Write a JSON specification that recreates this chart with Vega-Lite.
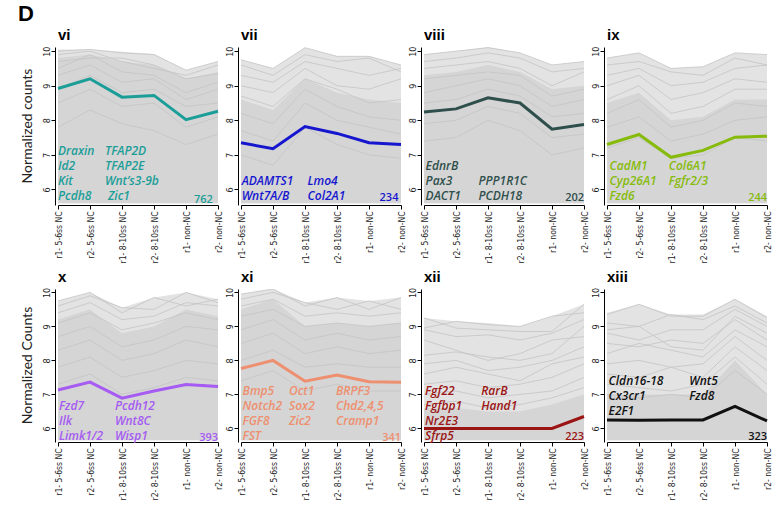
{
"$schema": "https://vega.github.io/schema/vega-lite/v6.json",
"background": "white",
"padding": {"left": 17, "top": 3, "right": 2, "bottom": 2},
"title": {"text": "D", "anchor": "start", "fontSize": 22, "fontWeight": "bold", "font": "Liberation Sans", "color": "#000", "dx": -3, "offset": 2},
"datasets": {"d": [
{"r":1,"p":"vi","k":"e","x":0,"hi":10.05,"mid":9.8,"lo":5.6},
{"r":1,"p":"vi","k":"e","x":1,"hi":10.05,"mid":9.9,"lo":5.6},
{"r":1,"p":"vi","k":"e","x":2,"hi":9.98,"mid":9.7,"lo":5.6},
{"r":1,"p":"vi","k":"e","x":3,"hi":9.92,"mid":9.6,"lo":5.6},
{"r":1,"p":"vi","k":"e","x":4,"hi":9.45,"mid":9.2,"lo":5.6},
{"r":1,"p":"vi","k":"e","x":5,"hi":9.7,"mid":9.4,"lo":5.6},
{"r":1,"p":"vii","k":"e","x":0,"hi":9.75,"mid":8.6,"lo":5.6},
{"r":1,"p":"vii","k":"e","x":1,"hi":9.5,"mid":8.3,"lo":5.6},
{"r":1,"p":"vii","k":"e","x":2,"hi":10.1,"mid":9.2,"lo":5.6},
{"r":1,"p":"vii","k":"e","x":3,"hi":9.85,"mid":8.8,"lo":5.6},
{"r":1,"p":"vii","k":"e","x":4,"hi":9.85,"mid":8.6,"lo":5.6},
{"r":1,"p":"vii","k":"e","x":5,"hi":9.6,"mid":8.5,"lo":5.6},
{"r":1,"p":"viii","k":"e","x":0,"hi":9.9,"mid":9.3,"lo":5.6},
{"r":1,"p":"viii","k":"e","x":1,"hi":10.0,"mid":9.4,"lo":5.6},
{"r":1,"p":"viii","k":"e","x":2,"hi":10.12,"mid":9.6,"lo":5.6},
{"r":1,"p":"viii","k":"e","x":3,"hi":9.95,"mid":9.4,"lo":5.6},
{"r":1,"p":"viii","k":"e","x":4,"hi":9.6,"mid":8.9,"lo":5.6},
{"r":1,"p":"viii","k":"e","x":5,"hi":9.7,"mid":9.0,"lo":5.6},
{"r":1,"p":"ix","k":"e","x":0,"hi":9.8,"mid":8.5,"lo":5.6},
{"r":1,"p":"ix","k":"e","x":1,"hi":9.95,"mid":8.8,"lo":5.6},
{"r":1,"p":"ix","k":"e","x":2,"hi":9.5,"mid":8.0,"lo":5.6},
{"r":1,"p":"ix","k":"e","x":3,"hi":9.55,"mid":8.1,"lo":5.6},
{"r":1,"p":"ix","k":"e","x":4,"hi":9.95,"mid":8.6,"lo":5.6},
{"r":1,"p":"ix","k":"e","x":5,"hi":9.9,"mid":8.6,"lo":5.6},
{"r":2,"p":"x","k":"e","x":0,"hi":9.75,"mid":9.2,"lo":5.65},
{"r":2,"p":"x","k":"e","x":1,"hi":10.0,"mid":9.5,"lo":5.65},
{"r":2,"p":"x","k":"e","x":2,"hi":9.55,"mid":8.8,"lo":5.65},
{"r":2,"p":"x","k":"e","x":3,"hi":9.85,"mid":9.0,"lo":5.65},
{"r":2,"p":"x","k":"e","x":4,"hi":10.0,"mid":9.5,"lo":5.65},
{"r":2,"p":"x","k":"e","x":5,"hi":9.8,"mid":9.3,"lo":5.65},
{"r":2,"p":"xi","k":"e","x":0,"hi":9.95,"mid":9.5,"lo":5.65},
{"r":2,"p":"xi","k":"e","x":1,"hi":10.1,"mid":9.8,"lo":5.65},
{"r":2,"p":"xi","k":"e","x":2,"hi":9.7,"mid":9.0,"lo":5.65},
{"r":2,"p":"xi","k":"e","x":3,"hi":9.85,"mid":9.1,"lo":5.65},
{"r":2,"p":"xi","k":"e","x":4,"hi":9.75,"mid":9.0,"lo":5.65},
{"r":2,"p":"xi","k":"e","x":5,"hi":9.85,"mid":9.1,"lo":5.65},
{"r":2,"p":"xii","k":"e","x":0,"hi":9.25,"mid":6.6,"lo":5.65},
{"r":2,"p":"xii","k":"e","x":1,"hi":9.15,"mid":6.6,"lo":5.65},
{"r":2,"p":"xii","k":"e","x":2,"hi":9.1,"mid":6.5,"lo":5.65},
{"r":2,"p":"xii","k":"e","x":3,"hi":9.0,"mid":6.5,"lo":5.65},
{"r":2,"p":"xii","k":"e","x":4,"hi":9.3,"mid":6.7,"lo":5.65},
{"r":2,"p":"xii","k":"e","x":5,"hi":9.65,"mid":7.0,"lo":5.65},
{"r":2,"p":"xiii","k":"e","x":0,"hi":9.4,"mid":7.0,"lo":5.65},
{"r":2,"p":"xiii","k":"e","x":1,"hi":9.65,"mid":7.0,"lo":5.65},
{"r":2,"p":"xiii","k":"e","x":2,"hi":9.35,"mid":7.0,"lo":5.65},
{"r":2,"p":"xiii","k":"e","x":3,"hi":9.35,"mid":7.0,"lo":5.65},
{"r":2,"p":"xiii","k":"e","x":4,"hi":9.8,"mid":8.0,"lo":5.65},
{"r":2,"p":"xiii","k":"e","x":5,"hi":9.3,"mid":7.0,"lo":5.65},

{"r":1,"p":"vi","k":"g","id":1,"0":10.0,"1":10.05,"2":9.95,"3":9.9,"4":9.45,"5":9.7},
{"r":1,"p":"vi","k":"g","id":2,"0":9.9,"1":10.0,"2":9.7,"3":9.5,"4":9.3,"5":9.6},
{"r":1,"p":"vi","k":"g","id":3,"0":9.7,"1":9.8,"2":9.8,"3":9.6,"4":9.2,"5":9.35},
{"r":1,"p":"vi","k":"g","id":4,"0":9.5,"1":9.9,"2":9.4,"3":9.3,"4":8.8,"5":9.1},
{"r":1,"p":"vi","k":"g","id":5,"0":9.3,"1":9.6,"2":9.1,"3":9.2,"4":8.6,"5":8.9},
{"r":1,"p":"vi","k":"g","id":6,"0":8.9,"1":9.3,"2":8.8,"3":8.9,"4":8.4,"5":8.5},
{"r":1,"p":"vi","k":"g","id":7,"0":8.5,"1":8.9,"2":8.4,"3":8.5,"4":7.8,"5":8.1},
{"r":1,"p":"vi","k":"g","id":8,"0":7.8,"1":8.3,"2":7.9,"3":7.7,"4":7.3,"5":7.6},
{"r":1,"p":"vii","k":"g","id":1,"0":9.75,"1":9.5,"2":10.1,"3":9.85,"4":9.85,"5":9.6},
{"r":1,"p":"vii","k":"g","id":2,"0":9.6,"1":9.3,"2":9.9,"3":9.7,"4":9.8,"5":9.4},
{"r":1,"p":"vii","k":"g","id":3,"0":9.3,"1":9.1,"2":9.7,"3":9.5,"4":9.3,"5":9.5},
{"r":1,"p":"vii","k":"g","id":4,"0":9.0,"1":8.8,"2":9.5,"3":9.0,"4":8.9,"5":9.2},
{"r":1,"p":"vii","k":"g","id":5,"0":8.7,"1":8.4,"2":9.2,"3":8.9,"4":8.5,"5":8.6},
{"r":1,"p":"vii","k":"g","id":6,"0":8.2,"1":7.9,"2":8.9,"3":8.4,"4":8.1,"5":8.0},
{"r":1,"p":"vii","k":"g","id":7,"0":7.7,"1":7.4,"2":8.5,"3":8.0,"4":7.8,"5":7.6},
{"r":1,"p":"vii","k":"g","id":8,"0":7.0,"1":6.7,"2":7.8,"3":7.3,"4":7.0,"5":6.9},
{"r":1,"p":"viii","k":"g","id":1,"0":9.9,"1":10.0,"2":10.1,"3":9.95,"4":9.6,"5":9.7},
{"r":1,"p":"viii","k":"g","id":2,"0":9.7,"1":9.8,"2":9.95,"3":9.8,"4":9.4,"5":9.5},
{"r":1,"p":"viii","k":"g","id":3,"0":9.5,"1":9.6,"2":9.7,"3":9.5,"4":9.0,"5":9.4},
{"r":1,"p":"viii","k":"g","id":4,"0":9.2,"1":9.3,"2":9.4,"3":9.3,"4":8.7,"5":8.9},
{"r":1,"p":"viii","k":"g","id":5,"0":8.8,"1":9.0,"2":9.2,"3":9.0,"4":8.4,"5":8.6},
{"r":1,"p":"viii","k":"g","id":6,"0":8.5,"1":8.6,"2":8.9,"3":8.7,"4":8.1,"5":8.2},
{"r":1,"p":"viii","k":"g","id":7,"0":7.9,"1":8.0,"2":8.4,"3":8.2,"4":7.5,"5":7.6},
{"r":1,"p":"viii","k":"g","id":8,"0":7.4,"1":7.5,"2":8.0,"3":7.7,"4":7.0,"5":7.2},
{"r":1,"p":"ix","k":"g","id":1,"0":9.8,"1":9.95,"2":9.5,"3":9.55,"4":9.95,"5":9.9},
{"r":1,"p":"ix","k":"g","id":2,"0":9.6,"1":9.7,"2":9.4,"3":9.3,"4":9.8,"5":9.6},
{"r":1,"p":"ix","k":"g","id":3,"0":9.3,"1":9.5,"2":9.0,"3":9.1,"4":9.5,"5":9.6},
{"r":1,"p":"ix","k":"g","id":4,"0":9.0,"1":9.3,"2":8.6,"3":8.8,"4":9.2,"5":9.1},
{"r":1,"p":"ix","k":"g","id":5,"0":8.6,"1":9.0,"2":8.2,"3":8.4,"4":8.9,"5":8.9},
{"r":1,"p":"ix","k":"g","id":6,"0":8.2,"1":8.6,"2":7.8,"3":8.0,"4":8.5,"5":8.4},
{"r":1,"p":"ix","k":"g","id":7,"0":7.8,"1":8.1,"2":7.4,"3":7.6,"4":8.0,"5":8.1},
{"r":1,"p":"ix","k":"g","id":8,"0":7.2,"1":7.5,"2":6.9,"3":7.0,"4":7.5,"5":7.4},
{"r":2,"p":"x","k":"g","id":1,"0":9.75,"1":10.0,"2":9.4,"3":9.85,"4":9.6,"5":9.8},
{"r":2,"p":"x","k":"g","id":2,"0":9.6,"1":9.9,"2":9.55,"3":9.5,"4":10.0,"5":9.7},
{"r":2,"p":"x","k":"g","id":3,"0":9.4,"1":9.7,"2":9.2,"3":9.3,"4":9.7,"5":9.6},
{"r":2,"p":"x","k":"g","id":4,"0":9.1,"1":9.4,"2":8.9,"3":9.1,"4":9.4,"5":9.2},
{"r":2,"p":"x","k":"g","id":5,"0":8.7,"1":9.0,"2":8.4,"3":8.6,"4":9.0,"5":8.9},
{"r":2,"p":"x","k":"g","id":6,"0":8.3,"1":8.6,"2":8.0,"3":8.2,"4":8.6,"5":8.4},
{"r":2,"p":"x","k":"g","id":7,"0":7.8,"1":8.1,"2":7.5,"3":7.7,"4":8.0,"5":7.9},
{"r":2,"p":"x","k":"g","id":8,"0":7.3,"1":7.6,"2":7.0,"3":7.2,"4":7.5,"5":7.4},
{"r":2,"p":"xi","k":"g","id":1,"0":9.95,"1":10.1,"2":9.6,"3":9.85,"4":9.5,"5":9.85},
{"r":2,"p":"xi","k":"g","id":2,"0":9.8,"1":10.0,"2":9.7,"3":9.5,"4":9.75,"5":9.5},
{"r":2,"p":"xi","k":"g","id":3,"0":9.6,"1":9.8,"2":9.3,"3":9.4,"4":9.3,"5":9.4},
{"r":2,"p":"xi","k":"g","id":4,"0":9.3,"1":9.5,"2":9.0,"3":9.1,"4":9.0,"5":9.1},
{"r":2,"p":"xi","k":"g","id":5,"0":8.9,"1":9.2,"2":8.6,"3":8.8,"4":8.6,"5":8.7},
{"r":2,"p":"xi","k":"g","id":6,"0":8.5,"1":8.8,"2":8.2,"3":8.4,"4":8.2,"5":8.3},
{"r":2,"p":"xi","k":"g","id":7,"0":8.0,"1":8.3,"2":7.8,"3":7.9,"4":7.8,"5":7.8},
{"r":2,"p":"xi","k":"g","id":8,"0":7.4,"1":7.7,"2":7.1,"3":7.3,"4":7.1,"5":7.1},
{"r":2,"p":"xii","k":"g","id":1,"0":9.25,"1":8.95,"2":8.9,"3":8.85,"4":8.85,"5":9.65},
{"r":2,"p":"xii","k":"g","id":2,"0":8.95,"1":9.15,"2":9.05,"3":9.0,"4":9.3,"5":9.4},
{"r":2,"p":"xii","k":"g","id":3,"0":8.9,"1":8.7,"2":8.75,"3":8.6,"4":8.8,"5":9.2},
{"r":2,"p":"xii","k":"g","id":4,"0":8.15,"1":8.25,"2":8.1,"3":8.0,"4":8.2,"5":9.0},
{"r":2,"p":"xii","k":"g","id":5,"0":7.9,"1":8.0,"2":7.7,"3":7.8,"4":8.0,"5":8.4},
{"r":2,"p":"xii","k":"g","id":6,"0":7.6,"1":7.8,"2":7.6,"3":7.4,"4":7.9,"5":8.1},
{"r":2,"p":"xii","k":"g","id":7,"0":7.3,"1":7.4,"2":7.2,"3":7.3,"4":7.5,"5":7.9},
{"r":2,"p":"xii","k":"g","id":8,"0":7.0,"1":7.1,"2":6.9,"3":7.0,"4":7.1,"5":7.5},
{"r":2,"p":"xii","k":"g","id":9,"0":6.7,"1":6.8,"2":6.6,"3":6.7,"4":6.9,"5":7.2},
{"r":2,"p":"xii","k":"g","id":10,"0":8.6,"1":8.3,"2":8.0,"3":8.2,"4":8.6,"5":8.7},
{"r":2,"p":"xiii","k":"g","id":1,"0":9.35,"1":9.65,"2":9.3,"3":9.3,"4":9.8,"5":9.25},
{"r":2,"p":"xiii","k":"g","id":2,"0":9.1,"1":9.0,"2":9.35,"3":9.2,"4":9.6,"5":9.1},
{"r":2,"p":"xiii","k":"g","id":3,"0":8.8,"1":8.6,"2":8.9,"3":8.9,"4":9.5,"5":9.0},
{"r":2,"p":"xiii","k":"g","id":4,"0":8.5,"1":8.4,"2":8.6,"3":8.5,"4":9.2,"5":8.6},
{"r":2,"p":"xiii","k":"g","id":5,"0":8.2,"1":8.5,"2":8.3,"3":8.1,"4":8.9,"5":8.4},
{"r":2,"p":"xiii","k":"g","id":6,"0":7.9,"1":8.0,"2":7.8,"3":7.9,"4":8.7,"5":8.0},
{"r":2,"p":"xiii","k":"g","id":7,"0":7.6,"1":7.5,"2":7.8,"3":7.5,"4":8.4,"5":7.7},
{"r":2,"p":"xiii","k":"g","id":8,"0":7.3,"1":7.2,"2":7.1,"3":7.3,"4":8.1,"5":7.3},
{"r":2,"p":"xiii","k":"g","id":9,"0":7.0,"1":6.9,"2":7.0,"3":6.9,"4":7.7,"5":7.0},
{"r":2,"p":"xiii","k":"g","id":10,"0":8.9,"1":9.0,"2":8.4,"3":8.3,"4":9.3,"5":8.8},

{"r":1,"p":"vi","k":"m","0":8.92,"1":9.2,"2":8.67,"3":8.72,"4":8.02,"5":8.26},
{"r":1,"p":"vii","k":"m","0":7.35,"1":7.18,"2":7.82,"3":7.62,"4":7.35,"5":7.3},
{"r":1,"p":"viii","k":"m","0":8.24,"1":8.33,"2":8.65,"3":8.5,"4":7.74,"5":7.88},
{"r":1,"p":"ix","k":"m","0":7.3,"1":7.59,"2":6.93,"3":7.13,"4":7.51,"5":7.54},
{"r":2,"p":"x","k":"m","0":7.13,"1":7.36,"2":6.89,"3":7.1,"4":7.29,"5":7.23},
{"r":2,"p":"xi","k":"m","0":7.76,"1":8.0,"2":7.39,"3":7.57,"4":7.37,"5":7.36},
{"r":2,"p":"xii","k":"m","0":6.0,"1":6.0,"2":6.0,"3":6.0,"4":6.0,"5":6.35},
{"r":2,"p":"xiii","k":"m","0":6.25,"1":6.24,"2":6.25,"3":6.25,"4":6.65,"5":6.22},

{"r":1,"p":"vi","k":"t","tx":0.0,"ty":7.11,"t":"Draxin"},
{"r":1,"p":"vi","k":"t","tx":0.0,"ty":6.67,"t":"Id2"},
{"r":1,"p":"vi","k":"t","tx":0.0,"ty":6.24,"t":"Kit"},
{"r":1,"p":"vi","k":"t","tx":0.0,"ty":5.81,"t":"Pcdh8"},
{"r":1,"p":"vi","k":"t","tx":1.47,"ty":7.11,"t":"TFAP2D"},
{"r":1,"p":"vi","k":"t","tx":1.47,"ty":6.67,"t":"TFAP2E"},
{"r":1,"p":"vi","k":"t","tx":1.47,"ty":6.24,"t":"Wnt’s3-9b"},
{"r":1,"p":"vi","k":"t","tx":1.56,"ty":5.81,"t":"Zic1"},
{"r":1,"p":"vi","k":"n","tx":4.84,"ty":5.7,"t":"762"},
{"r":1,"p":"vii","k":"t","tx":0.02,"ty":6.24,"t":"ADAMTS1"},
{"r":1,"p":"vii","k":"t","tx":0.02,"ty":5.81,"t":"Wnt7A/B"},
{"r":1,"p":"vii","k":"t","tx":2.08,"ty":6.24,"t":"Lmo4"},
{"r":1,"p":"vii","k":"t","tx":2.08,"ty":5.81,"t":"Col2A1"},
{"r":1,"p":"vii","k":"n","tx":4.92,"ty":5.74,"t":"234"},
{"r":1,"p":"viii","k":"t","tx":0.05,"ty":6.67,"t":"EdnrB"},
{"r":1,"p":"viii","k":"t","tx":0.05,"ty":6.24,"t":"Pax3"},
{"r":1,"p":"viii","k":"t","tx":0.05,"ty":5.81,"t":"DACT1"},
{"r":1,"p":"viii","k":"t","tx":1.7,"ty":6.24,"t":"PPP1R1C"},
{"r":1,"p":"viii","k":"t","tx":1.7,"ty":5.81,"t":"PCDH18"},
{"r":1,"p":"viii","k":"n","tx":5.0,"ty":5.75,"t":"202"},
{"r":1,"p":"ix","k":"t","tx":0.08,"ty":6.67,"t":"CadM1"},
{"r":1,"p":"ix","k":"t","tx":0.08,"ty":6.24,"t":"Cyp26A1"},
{"r":1,"p":"ix","k":"t","tx":0.08,"ty":5.81,"t":"Fzd6"},
{"r":1,"p":"ix","k":"t","tx":1.93,"ty":6.67,"t":"Col6A1"},
{"r":1,"p":"ix","k":"t","tx":1.93,"ty":6.24,"t":"Fgfr2/3"},
{"r":1,"p":"ix","k":"n","tx":5.0,"ty":5.74,"t":"244"},
{"r":2,"p":"x","k":"t","tx":0.03,"ty":6.67,"t":"Fzd7"},
{"r":2,"p":"x","k":"t","tx":0.03,"ty":6.23,"t":"Ilk"},
{"r":2,"p":"x","k":"t","tx":0.03,"ty":5.79,"t":"Limk1/2"},
{"r":2,"p":"x","k":"t","tx":1.78,"ty":6.67,"t":"Pcdh12"},
{"r":2,"p":"x","k":"t","tx":1.78,"ty":6.23,"t":"Wnt8C"},
{"r":2,"p":"x","k":"t","tx":1.78,"ty":5.79,"t":"Wisp1"},
{"r":2,"p":"x","k":"n","tx":5.0,"ty":5.72,"t":"393"},
{"r":2,"p":"xi","k":"t","tx":0.05,"ty":7.11,"t":"Bmp5"},
{"r":2,"p":"xi","k":"t","tx":0.05,"ty":6.67,"t":"Notch2"},
{"r":2,"p":"xi","k":"t","tx":0.05,"ty":6.23,"t":"FGF8"},
{"r":2,"p":"xi","k":"t","tx":0.05,"ty":5.79,"t":"FST"},
{"r":2,"p":"xi","k":"t","tx":1.5,"ty":7.11,"t":"Oct1"},
{"r":2,"p":"xi","k":"t","tx":1.5,"ty":6.67,"t":"Sox2"},
{"r":2,"p":"xi","k":"t","tx":1.5,"ty":6.23,"t":"Zic2"},
{"r":2,"p":"xi","k":"t","tx":2.97,"ty":7.11,"t":"BRPF3"},
{"r":2,"p":"xi","k":"t","tx":2.97,"ty":6.67,"t":"Chd2,4,5"},
{"r":2,"p":"xi","k":"t","tx":2.97,"ty":6.23,"t":"Cramp1"},
{"r":2,"p":"xi","k":"n","tx":5.0,"ty":5.72,"t":"341"},
{"r":2,"p":"xii","k":"t","tx":0.03,"ty":7.11,"t":"Fgf22"},
{"r":2,"p":"xii","k":"t","tx":0.03,"ty":6.67,"t":"Fgfbp1"},
{"r":2,"p":"xii","k":"t","tx":0.03,"ty":6.23,"t":"Nr2E3"},
{"r":2,"p":"xii","k":"t","tx":0.03,"ty":5.79,"t":"Sfrp5"},
{"r":2,"p":"xii","k":"t","tx":1.79,"ty":7.11,"t":"RarB"},
{"r":2,"p":"xii","k":"t","tx":1.79,"ty":6.67,"t":"Hand1"},
{"r":2,"p":"xii","k":"n","tx":5.0,"ty":5.75,"t":"223"},
{"r":2,"p":"xiii","k":"t","tx":0.05,"ty":7.38,"t":"Cldn16-18"},
{"r":2,"p":"xiii","k":"t","tx":0.05,"ty":6.94,"t":"Cx3cr1"},
{"r":2,"p":"xiii","k":"t","tx":0.05,"ty":6.5,"t":"E2F1"},
{"r":2,"p":"xiii","k":"t","tx":2.57,"ty":7.38,"t":"Wnt5"},
{"r":2,"p":"xiii","k":"t","tx":2.57,"ty":6.94,"t":"Fzd8"},
{"r":2,"p":"xiii","k":"n","tx":5.0,"ty":5.76,"t":"323"}
]},
"vconcat": [
{
 "data": {"name": "d"},
 "transform": [{"filter": "datum.r == 1"}],
 "facet": {
  "row": {"field": "r", "type": "nominal", "header": {"title": null, "labelExpr": "'Normalized counts'", "labelAngle": -90, "labelOrient": "left", "labelFont": "Lato", "labelFontSize": 14, "labelColor": "#222", "labelPadding": 0}},
  "column": {"field": "p", "type": "nominal", "sort": ["vi","vii","viii","ix"], "header": {"title": null, "labelAnchor": "start", "labelAlign": "left", "labelFont": "Liberation Sans", "labelFontWeight": "bold", "labelFontSize": 15, "labelColor": "#000", "labelPadding": 2}}
 },
 "spacing": {"column": 1, "row": 0},
 "resolve": {"axis": {"x": "independent", "y": "independent"}},
 "spec": {
  "width": 160, "height": 158,
  "layer": [
   {"transform": [{"filter": "datum.k == 'e'"}],
    "mark": {"type": "area", "color": "#e3e3e3", "clip": true},
    "encoding": {
     "x": {"field": "x", "type": "quantitative", "title": null, "scale": {"domain": [0,5], "nice": false, "zero": false},
           "axis": {"values": [0,1,2,3,4,5], "tickCount": 10, "labelExpr": "['r1- 5-6ss NC','r2- 5-6ss NC','r1- 8-10ss NC','r2- 8-10ss NC','r1- non-NC','r2- non-NC'][datum.value]", "labelAngle": -90, "labelOverlap": false, "labelFlush": false, "tickSize": 4, "labelPadding": 2, "labelFontSize": 8.5}},
     "y": {"field": "hi", "type": "quantitative", "title": null, "scale": {"domain": [5.55,10.12], "nice": false, "zero": false},
           "axis": {"values": [6,7,8,9,10], "tickCount": 10, "format": "d", "labelAngle": -90, "labelAlign": "center", "labelBaseline": "alphabetic", "labelOverlap": false, "labelFlush": false, "offset": 3, "tickSize": 4, "labelPadding": 2}},
     "y2": {"field": "lo"}
    }},
   {"transform": [{"filter": "datum.k == 'e'"}],
    "mark": {"type": "area", "color": "#d5d5d5", "clip": true},
    "encoding": {"x": {"field": "x", "type": "quantitative", "title": null}, "y": {"field": "mid", "type": "quantitative", "title": null}, "y2": {"field": "lo"}}},
   {"transform": [{"filter": "datum.k == 'g'"}, {"fold": ["0","1","2","3","4","5"], "as": ["x","v"]}],
    "mark": {"type": "line", "color": "#c4c4c4", "strokeWidth": 0.8, "clip": true},
    "encoding": {"x": {"field": "x", "type": "quantitative", "title": null}, "y": {"field": "v", "type": "quantitative", "title": null}, "detail": {"field": "id", "type": "nominal"}}},
   {"transform": [{"filter": "datum.k == 'm'"}, {"fold": ["0","1","2","3","4","5"], "as": ["x","v"]}],
    "mark": {"type": "line", "strokeWidth": 3},
    "encoding": {"x": {"field": "x", "type": "quantitative", "title": null}, "y": {"field": "v", "type": "quantitative", "title": null},
     "color": {"field": "p", "type": "nominal", "legend": null, "scale": {"domain": ["vi","vii","viii","ix","x","xi","xii","xiii"], "range": ["#1b9e98","#1616cf","#2f4f4c","#87bb0b","#a65bf2","#ee8f6f","#9b1515","#111111"]}}}},
   {"transform": [{"filter": "datum.k == 't'"}],
    "mark": {"type": "text", "align": "left", "baseline": "middle", "font": "Open Sans", "fontStyle": "italic", "fontWeight": 600, "fontSize": 12},
    "encoding": {"x": {"field": "tx", "type": "quantitative", "title": null}, "y": {"field": "ty", "type": "quantitative", "title": null}, "text": {"field": "t"}, "color": {"field": "p", "type": "nominal", "legend": null}}},
   {"transform": [{"filter": "datum.k == 'n'"}],
    "mark": {"type": "text", "align": "right", "baseline": "middle", "font": "Open Sans", "fontWeight": 600, "fontSize": 11},
    "encoding": {"x": {"field": "tx", "type": "quantitative", "title": null}, "y": {"field": "ty", "type": "quantitative", "title": null}, "text": {"field": "t"}, "color": {"field": "p", "type": "nominal", "legend": null}}}
  ]
 }
},
{
 "data": {"name": "d"},
 "transform": [{"filter": "datum.r == 2"}],
 "facet": {
  "row": {"field": "r", "type": "nominal", "header": {"title": null, "labelExpr": "'Normalized Counts'", "labelAngle": -90, "labelOrient": "left", "labelFont": "Lato", "labelFontSize": 14, "labelColor": "#222", "labelPadding": 0}},
  "column": {"field": "p", "type": "nominal", "sort": ["x","xi","xii","xiii"], "header": {"title": null, "labelAnchor": "start", "labelAlign": "left", "labelFont": "Liberation Sans", "labelFontWeight": "bold", "labelFontSize": 15, "labelColor": "#000", "labelPadding": 2}}
 },
 "spacing": {"column": 1, "row": 0},
 "resolve": {"axis": {"x": "independent", "y": "independent"}},
 "spec": {
  "width": 160, "height": 153,
  "layer": [
   {"transform": [{"filter": "datum.k == 'e'"}],
    "mark": {"type": "area", "color": "#e3e3e3", "clip": true},
    "encoding": {
     "x": {"field": "x", "type": "quantitative", "title": null, "scale": {"domain": [0,5], "nice": false, "zero": false},
           "axis": {"values": [0,1,2,3,4,5], "tickCount": 10, "labelExpr": "['r1- 5-6ss NC','r2- 5-6ss NC','r1- 8-10ss NC','r2- 8-10ss NC','r1- non-NC','r2- non-NC'][datum.value]", "labelAngle": -90, "labelOverlap": false, "labelFlush": false, "tickSize": 4, "labelPadding": 2, "labelFontSize": 8.5}},
     "y": {"field": "hi", "type": "quantitative", "title": null, "scale": {"domain": [5.6,10.1], "nice": false, "zero": false},
           "axis": {"values": [6,7,8,9,10], "tickCount": 10, "format": "d", "labelAngle": -90, "labelAlign": "center", "labelBaseline": "alphabetic", "labelOverlap": false, "labelFlush": false, "offset": 3, "tickSize": 4, "labelPadding": 2}},
     "y2": {"field": "lo"}
    }},
   {"transform": [{"filter": "datum.k == 'e'"}],
    "mark": {"type": "area", "color": "#d5d5d5", "clip": true},
    "encoding": {"x": {"field": "x", "type": "quantitative", "title": null}, "y": {"field": "mid", "type": "quantitative", "title": null}, "y2": {"field": "lo"}}},
   {"transform": [{"filter": "datum.k == 'g'"}, {"fold": ["0","1","2","3","4","5"], "as": ["x","v"]}],
    "mark": {"type": "line", "color": "#c4c4c4", "strokeWidth": 0.8, "clip": true},
    "encoding": {"x": {"field": "x", "type": "quantitative", "title": null}, "y": {"field": "v", "type": "quantitative", "title": null}, "detail": {"field": "id", "type": "nominal"}}},
   {"transform": [{"filter": "datum.k == 'm'"}, {"fold": ["0","1","2","3","4","5"], "as": ["x","v"]}],
    "mark": {"type": "line", "strokeWidth": 3},
    "encoding": {"x": {"field": "x", "type": "quantitative", "title": null}, "y": {"field": "v", "type": "quantitative", "title": null},
     "color": {"field": "p", "type": "nominal", "legend": null, "scale": {"domain": ["vi","vii","viii","ix","x","xi","xii","xiii"], "range": ["#1b9e98","#1616cf","#2f4f4c","#87bb0b","#a65bf2","#ee8f6f","#9b1515","#111111"]}}}},
   {"transform": [{"filter": "datum.k == 't'"}],
    "mark": {"type": "text", "align": "left", "baseline": "middle", "font": "Open Sans", "fontStyle": "italic", "fontWeight": 600, "fontSize": 12},
    "encoding": {"x": {"field": "tx", "type": "quantitative", "title": null}, "y": {"field": "ty", "type": "quantitative", "title": null}, "text": {"field": "t"}, "color": {"field": "p", "type": "nominal", "legend": null}}},
   {"transform": [{"filter": "datum.k == 'n'"}],
    "mark": {"type": "text", "align": "right", "baseline": "middle", "font": "Open Sans", "fontWeight": 600, "fontSize": 11},
    "encoding": {"x": {"field": "tx", "type": "quantitative", "title": null}, "y": {"field": "ty", "type": "quantitative", "title": null}, "text": {"field": "t"}, "color": {"field": "p", "type": "nominal", "legend": null}}}
  ]
 }
}
],
"spacing": 6,
"config": {
 "view": {"stroke": null},
 "axis": {"grid": false, "domainColor": "#000", "tickColor": "#000", "labelColor": "#222", "labelFont": "DejaVu Sans Condensed, Liberation Sans Narrow, Lato, sans-serif", "labelFontSize": 9, "labelOverlap": false, "labelFlush": false}
}
}
